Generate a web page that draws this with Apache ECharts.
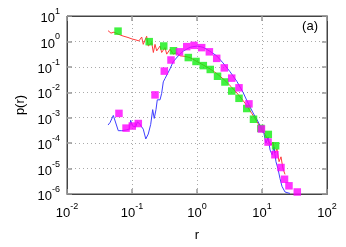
<!DOCTYPE html>
<html><head><meta charset="utf-8">
<script src="https://cdn.jsdelivr.net/npm/echarts@6/dist/echarts.min.js"></script>
<style>html,body{margin:0;padding:0;background:#fff}#c{width:346px;height:247px}</style>
</head><body><div id="c"></div>
<script>
const redX=[0.0428,0.0475,0.0528,0.061,0.0728,0.0868,0.1,0.115,0.128,0.141,0.149,0.168,0.178,0.201,0.213,0.226,0.24,0.27,0.286,0.322,0.342,0.385,0.432,0.487,0.548,0.653,0.78,0.966,1.24,1.58,2.03,2.6,3.33,4.27,5.47,7.02,8.38,9.66,11.1,12.4,13.8,14.8,15.8,17.0,18.3,19.6,21.0,22.6];
const redY=[2.65,2.12,2.32,1.94,1.63,1.43,1.25,1.14,1.05,1.49,0.767,1.6,0.66,0.89,0.367,0.767,0.424,0.66,0.367,0.573,0.316,0.492,0.316,0.367,0.272,0.258,0.232,0.17,0.119,0.0838,0.0537,0.0316,0.017,0.00838,0.00378,0.00143,7.0e-4,3.78e-4,2.22e-4,1.3e-4,8.4e-5,1.1e-4,4.1e-5,5.9e-5,1.86e-5,2.9e-5,1e-5,5.9e-6];
const blueX=[0.0428,0.0459,0.0516,0.0615,0.0695,0.0809,0.0909,0.0955,0.101,0.107,0.114,0.121,0.13,0.137,0.149,0.163,0.178,0.194,0.208,0.22,0.234,0.245,0.254,0.27,0.286,0.303,0.322,0.345,0.385,0.428,0.51,0.61,0.78,1.0,1.24,1.58,2.03,2.51,3.22,4.12,5.1,6.1,7.28,8.38,9.66,10.7,11.5,12.4,13.3,14.3,15.3,16.4,17.6,18.9,20.3,22.6,27.0];
const blueY=[5.15e-4,6.45e-4,1.23e-3,3.09e-4,3.09e-4,3.3e-4,3.55e-4,7.9e-4,4.8e-4,5.5e-4,4.35e-4,6.8e-4,5.9e-4,6.8e-4,3.55e-4,1.46e-4,2.28e-4,5.5e-4,2.08e-3,9.4e-4,2.08e-3,5.06e-3,5.9e-3,5.06e-3,9.1e-3,0.0257,0.0347,0.0412,0.0838,0.156,0.265,0.412,0.588,0.66,0.588,0.412,0.265,0.143,0.0645,0.0265,0.01,3.78e-3,1.55e-3,8.4e-4,4.12e-4,2.42e-4,1e-4,1.7e-4,5.4e-5,3.5e-5,7.0e-5,1.86e-5,1e-5,4.1e-6,2.0e-6,1.2e-6,1.05e-6];
const greenX=[0.061,0.184,0.308,0.435,0.735,0.966,1.25,1.6,2.07,2.69,3.42,4.43,5.82,7.4,9.6,12.5,16.2];
const greenY=[2.54,0.98,0.66,0.43,0.232,0.163,0.112,0.079,0.0426,0.0254,0.0112,0.0058,0.0023,8.7e-4,3.8e-4,2.2e-4,7.9e-5];
const magX=[0.063,0.081,0.101,0.125,0.226,0.314,0.398,0.538,0.695,0.90,1.18,1.55,2.01,2.63,3.42,4.43,6.3,9.8,12.4,15.8,19.6,22.2,26,34.9];
const magY=[1.48e-3,3.9e-4,4.7e-4,5.9e-4,7.9e-3,0.068,0.186,0.39,0.625,0.70,0.57,0.39,0.216,0.091,0.036,0.015,3.5e-3,3.6e-4,1.1e-4,3.5e-5,1.1e-5,3.8e-6,2.1e-6,1.2e-6];
const xTicks={min:0.01,max:100};
const yTicks={min:1e-6,max:10};
const pairs=(a,b)=>a.map((v,i)=>[v,b[i]]);
const FONT='"Liberation Sans", Arial, sans-serif';
const fmt=v=>{const e=Math.round(Math.log10(v));return '{b|10}{s|'+e+'}';};
const rich={b:{fontSize:13,lineHeight:18,verticalAlign:'bottom',fontFamily:FONT,color:'#000'},s:{fontSize:9,lineHeight:10,verticalAlign:'top',fontFamily:FONT,color:'#000'}};
const tick={show:true,inside:true,length:5,lineStyle:{color:'#999',width:1.5}};
const chart=echarts.init(document.getElementById('c'),null,{renderer:'canvas'});
chart.setOption({
  animation:false,
  textStyle:{fontFamily:FONT},
  grid:{left:67,right:19,top:16,bottom:49,show:true,borderColor:'#444',borderWidth:1},
  xAxis:[{type:'log',logBase:10,min:xTicks.min,max:xTicks.max,interval:1,position:'bottom',
    name:'r',nameLocation:'middle',nameGap:35,nameTextStyle:{fontSize:13,color:'#000',fontFamily:FONT},
    axisLine:{show:true,lineStyle:{color:'#444'}},axisTick:tick,minorTick:{show:false},
    axisLabel:{formatter:fmt,rich:rich,margin:8},
    splitLine:{show:true,lineStyle:{color:'#aaa',type:[1,3],width:1}}},
   {type:'log',logBase:10,min:xTicks.min,max:xTicks.max,interval:1,position:'top',
    axisLine:{show:true,lineStyle:{color:'#444'}},axisTick:tick,axisLabel:{show:false},splitLine:{show:false}}],
  yAxis:[{type:'log',logBase:10,min:yTicks.min,max:yTicks.max,interval:1,position:'left',
    name:'p(r)',nameLocation:'middle',nameGap:38,nameTextStyle:{fontSize:13,color:'#000',fontFamily:FONT},
    axisLine:{show:true,lineStyle:{color:'#444'}},axisTick:tick,
    axisLabel:{formatter:fmt,rich:rich,margin:7},
    splitLine:{show:true,lineStyle:{color:'#aaa',type:[1,3],width:1}}},
   {type:'log',logBase:10,min:yTicks.min,max:yTicks.max,interval:1,position:'right',
    axisLine:{show:true,lineStyle:{color:'#444'}},axisTick:tick,axisLabel:{show:false},splitLine:{show:false}}],
  series:[
    {type:'line',data:pairs(redX,redY),showSymbol:false,symbol:'none',lineStyle:{color:'#ff3a3a',width:1},z:2},
    {type:'line',data:pairs(blueX,blueY),showSymbol:false,symbol:'none',lineStyle:{color:'#3f3fff',width:1},z:2},
    {type:'scatter',data:pairs(greenX,greenY),symbol:'rect',symbolSize:7.5,itemStyle:{color:'#11ee11'},z:3},
    {type:'scatter',data:pairs(magX,magY),symbol:'rect',symbolSize:7.5,itemStyle:{color:'#ff00ff'},z:4}
  ],
  graphic:[{type:'text',right:28,top:20,style:{text:'(a)',fontSize:13,fontFamily:FONT,fill:'#000'}}]
});
</script></body></html>
